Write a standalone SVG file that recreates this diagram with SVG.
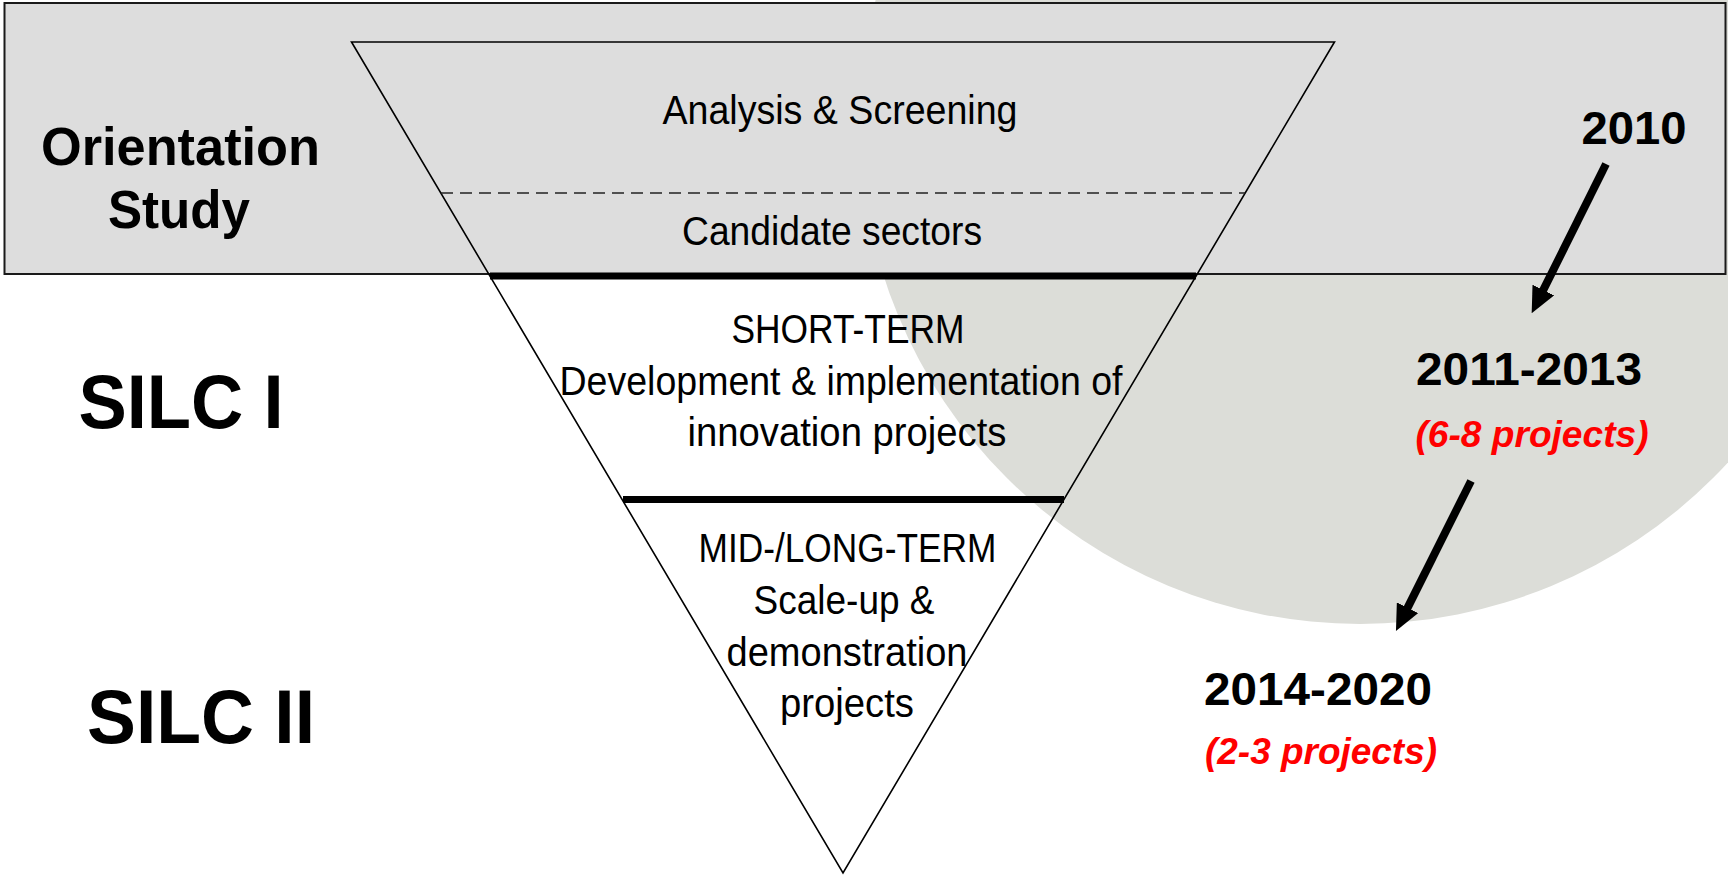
<svg xmlns="http://www.w3.org/2000/svg" width="1728" height="877" viewBox="0 0 1728 877">
  <style>
    .reg { font-family: "Liberation Sans Narrow", "Liberation Sans", Arial, sans-serif; font-size: 40px; fill: #000; text-anchor: middle; }
    .bold { font-family: "Liberation Sans", Arial, sans-serif; font-weight: bold; fill: #000; text-anchor: middle; }
    .red { font-family: "Liberation Sans", Arial, sans-serif; font-weight: bold; font-style: italic; font-size: 36px; fill: #FF0000; text-anchor: middle; }
    .edge { fill: none; stroke: #000; stroke-width: 1.6; }
    .thick { stroke: #000; stroke-width: 7; }
    .arrow { stroke: #000; stroke-width: 8; fill: none; }
  </style>
  <defs>
    <marker id="head" viewBox="0 0 26 24" refX="6" refY="12" markerWidth="26" markerHeight="24" markerUnits="userSpaceOnUse" orient="auto">
      <path d="M0,0 L26,12 L0,24 z" fill="#000"/>
    </marker>
  </defs>
  <rect x="0" y="0" width="1728" height="877" fill="#FFFFFF"/>

  <g id="phase-circle">
    <circle cx="1360" cy="124" r="500" fill="#DCDDD8"/>
  </g>

  <g id="orientation-band">
    <rect x="4.5" y="3" width="1721" height="271" fill="#DDDDDD" stroke="#1A1A1A" stroke-width="2"/>
  </g>

  <g id="funnel">
    <polygon class="edge" points="351.5,42 1334.5,42 843,873"/>
    <line x1="441" y1="193" x2="1245" y2="193" stroke="#222" stroke-width="1.5" stroke-dasharray="12 7"/>
    <line class="thick" x1="490" y1="276" x2="1196" y2="276"/>
    <line class="thick" x1="623" y1="499.5" x2="1064" y2="499.5"/>
  </g>

  <g id="stage-screening">
    <text class="reg" x="840" y="124" textLength="355" lengthAdjust="spacingAndGlyphs">Analysis &amp; Screening</text>
    <text class="reg" x="832" y="245" textLength="300" lengthAdjust="spacingAndGlyphs">Candidate sectors</text>
  </g>

  <g id="stage-short-term">
    <text class="reg" x="848" y="343" textLength="233" lengthAdjust="spacingAndGlyphs">SHORT-TERM</text>
    <text class="reg" x="841" y="395" textLength="563" lengthAdjust="spacingAndGlyphs">Development &amp; implementation of</text>
    <text class="reg" x="847" y="446" textLength="319" lengthAdjust="spacingAndGlyphs">innovation projects</text>
  </g>

  <g id="stage-mid-long-term">
    <text class="reg" x="847.5" y="562" textLength="298" lengthAdjust="spacingAndGlyphs">MID-/LONG-TERM</text>
    <text class="reg" x="844" y="614" textLength="181" lengthAdjust="spacingAndGlyphs">Scale-up &amp;</text>
    <text class="reg" x="847" y="666" textLength="241" lengthAdjust="spacingAndGlyphs">demonstration</text>
    <text class="reg" x="847" y="717" textLength="134" lengthAdjust="spacingAndGlyphs">projects</text>
  </g>

  <g id="label-orientation-study">
    <text class="bold" x="180.5" y="165" font-size="53" textLength="279" lengthAdjust="spacingAndGlyphs">Orientation</text>
    <text class="bold" x="179" y="228" font-size="53" textLength="142" lengthAdjust="spacingAndGlyphs">Study</text>
  </g>

  <g id="label-silc-1">
    <text class="bold" x="181" y="428" font-size="76" textLength="205" lengthAdjust="spacingAndGlyphs">SILC I</text>
  </g>

  <g id="label-silc-2">
    <text class="bold" x="201" y="743" font-size="76" textLength="228" lengthAdjust="spacingAndGlyphs">SILC II</text>
  </g>

  <g id="year-2010">
    <text class="bold" x="1634" y="143.5" font-size="46" textLength="105" lengthAdjust="spacingAndGlyphs">2010</text>
  </g>

  <g id="year-2011-2013">
    <text class="bold" x="1529" y="385" font-size="46" textLength="226" lengthAdjust="spacingAndGlyphs">2011-2013</text>
    <text class="red" x="1532" y="447" textLength="233" lengthAdjust="spacingAndGlyphs">(6-8 projects)</text>
  </g>

  <g id="year-2014-2020">
    <text class="bold" x="1318" y="704.5" font-size="46" textLength="228" lengthAdjust="spacingAndGlyphs">2014-2020</text>
    <text class="red" x="1321" y="763.5" textLength="232" lengthAdjust="spacingAndGlyphs">(2-3 projects)</text>
  </g>

  <g id="connectors">
    <line class="arrow" x1="1606" y1="164" x2="1540.6" y2="295.4" marker-end="url(#head)"/>
    <line class="arrow" x1="1471" y1="481" x2="1404.9" y2="613.1" marker-end="url(#head)"/>
  </g>
</svg>
